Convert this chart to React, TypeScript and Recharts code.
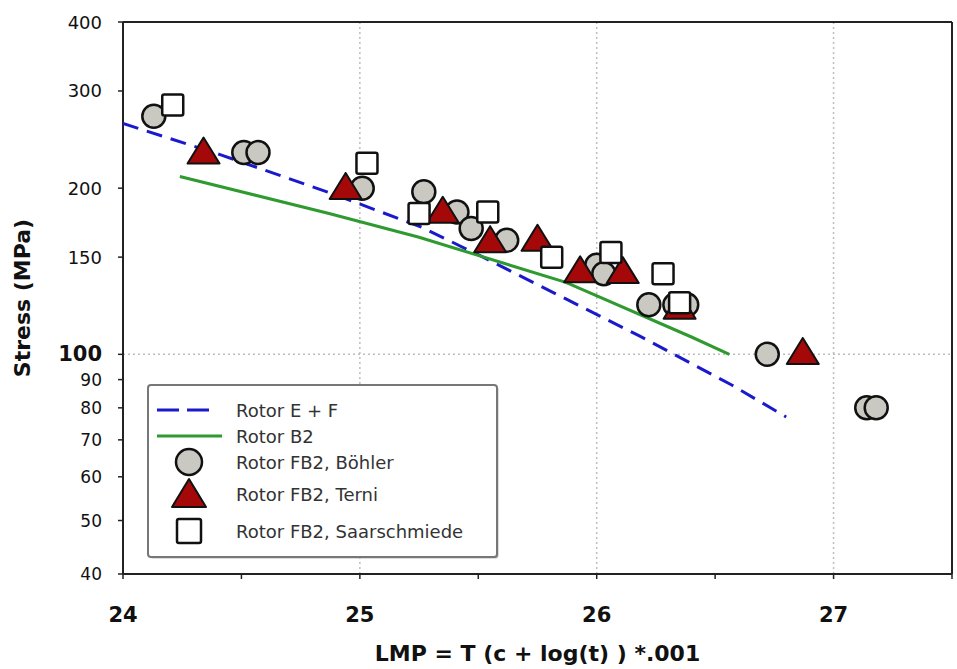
import React from 'react';
import { ComposedChart, Scatter, XAxis, YAxis, ReferenceLine, Legend } from 'recharts';

const xTicks = [24, 24.5, 25, 25.5, 26, 26.5, 27, 27.5];
const yTicks = [40, 50, 60, 70, 80, 90, 100, 150, 200, 300, 400];
const xGrid = [25, 26, 27];

const rotorEF = [
  { x: 24.0, y: 262 }, { x: 24.41, y: 230 }, { x: 24.89, y: 195 }, { x: 25.26, y: 170 },
  { x: 25.52, y: 150 }, { x: 25.87, y: 126 }, { x: 26.18, y: 108 }, { x: 26.57, y: 88 },
  { x: 26.8, y: 77 },
];
const rotorB2 = [
  { x: 24.24, y: 210 }, { x: 24.87, y: 180 }, { x: 25.25, y: 163 }, { x: 25.87, y: 135 },
  { x: 26.4, y: 107.5 }, { x: 26.56, y: 100 },
];
const bohler = [
  { x: 24.13, y: 270 }, { x: 24.51, y: 232 }, { x: 24.57, y: 232 }, { x: 25.01, y: 200 },
  { x: 25.27, y: 197 }, { x: 25.41, y: 181 }, { x: 25.47, y: 169 }, { x: 25.62, y: 161 },
  { x: 26.0, y: 145 }, { x: 26.03, y: 140 }, { x: 26.22, y: 123 }, { x: 26.33, y: 123 },
  { x: 26.38, y: 123 }, { x: 26.72, y: 100 }, { x: 27.14, y: 80 }, { x: 27.18, y: 80 },
];
const terni = [
  { x: 24.34, y: 233 }, { x: 24.94, y: 201 }, { x: 25.35, y: 182 }, { x: 25.55, y: 161 },
  { x: 25.75, y: 162 }, { x: 25.93, y: 142 }, { x: 26.11, y: 141.5 }, { x: 26.35, y: 122 },
  { x: 26.87, y: 101 },
];
const saar = [
  { x: 24.21, y: 283 }, { x: 25.03, y: 222 }, { x: 25.25, y: 180 }, { x: 25.54, y: 181 },
  { x: 25.81, y: 150 }, { x: 26.06, y: 153 }, { x: 26.28, y: 140 }, { x: 26.35, y: 124 },
];

const legendLabels = [
  'Rotor E + F',
  'Rotor B2',
  'Rotor FB2, Böhler',
  'Rotor FB2, Terni',
  'Rotor FB2, Saarschmiede',
];

const FONT = '"DejaVu Sans", "Liberation Sans", Arial, sans-serif';
const BLUE = '#1a1acc';
const GREEN = '#2e9a30';
const RED = '#a50808';
const GREY = '#c9c9c1';

const CircleShape = (p: any) => (
  <circle cx={p.cx} cy={p.cy} r={11.5} fill={GREY} stroke="#111" strokeWidth={2.5} />
);
const TriShape = (p: any) => (
  <polygon
    points={`${p.cx},${p.cy - 14} ${p.cx - 16},${p.cy + 12} ${p.cx + 16},${p.cy + 12}`}
    fill={RED}
    stroke="#111"
    strokeWidth={2}
    strokeLinejoin="round"
  />
);
const SquareShape = (p: any) => (
  <rect x={p.cx - 10.5} y={p.cy - 10.5} width={21} height={21} rx={2} fill="#fff" stroke="#111" strokeWidth={2.5} />
);
const NoShape = () => <g />;

const YTick = (props: any) => {
  const { x, y, payload } = props;
  const v = payload.value;
  const big = v === 100;
  const small = v < 100;
  return (
    <text
      x={x}
      y={y}
      textAnchor="end"
      dominantBaseline="central"
      fontFamily={FONT}
      fontSize={big ? 21 : small ? 17 : 18}
      fontWeight={big ? 'bold' : 'normal'}
      fill="#111"
    >
      {v}
    </text>
  );
};

const XTick = (props: any) => {
  const { x, y, payload } = props;
  const v = payload.value;
  if (!Number.isInteger(v)) return <g />;
  return (
    <text x={x} y={y} textAnchor="middle" dy="0.8em" fontFamily={FONT} fontSize={21} fontWeight="bold" fill="#111">
      {v}
    </text>
  );
};

const YLabel = (props: any) => {
  const vb = props.viewBox || {};
  const cx = (vb.x || 0) + 22;
  const cy = (vb.y || 0) + (vb.height || 0) / 2;
  return (
    <text
      x={cx}
      y={cy}
      transform={`rotate(-90 ${cx} ${cy})`}
      textAnchor="middle"
      dominantBaseline="central"
      fontFamily={FONT}
      fontSize={22}
      fontWeight="bold"
      fill="#111"
    >
      Stress (MPa)
    </text>
  );
};

const LegendBox = () => {
  const rows = [26, 52, 78, 110, 147];
  return (
    <svg width={354} height={177} style={{ display: 'block' }}>
      <rect x={2.5} y={2.5} width={349} height={172} rx={3} fill="#bbb" />
      <rect x={1} y={1} width={349} height={172} rx={3} fill="#fff" stroke="#777" strokeWidth={2} />
      <line x1={10} x2={62} y1={rows[0]} y2={rows[0]} stroke={BLUE} strokeWidth={3} strokeDasharray="22 8" />
      <line x1={10} x2={75} y1={rows[1]} y2={rows[1]} stroke={GREEN} strokeWidth={3} />
      <circle cx={42} cy={rows[2]} r={13} fill={GREY} stroke="#111" strokeWidth={2.5} />
      <polygon
        points={`42,${rows[3] - 15} 25,${rows[3] + 13} 59,${rows[3] + 13}`}
        fill={RED}
        stroke="#111"
        strokeWidth={2}
        strokeLinejoin="round"
      />
      <rect x={30} y={rows[4] - 12} width={24} height={24} rx={2} fill="#fff" stroke="#111" strokeWidth={2.5} />
      {legendLabels.map((t, i) => (
        <text key={t} x={89} y={rows[i]} dominantBaseline="central" fontFamily={FONT} fontSize={18} fill="#333">
          {t}
        </text>
      ))}
    </svg>
  );
};

export default function App() {
  return (
    <div style={{ position: 'absolute', left: 0, top: 0 }}>
      <ComposedChart width={957} height={669} margin={{ top: 22, right: 5, bottom: 0, left: 0 }}>
        <XAxis
          type="number"
          dataKey="x"
          domain={[24, 27.5]}
          ticks={xTicks}
          allowDataOverflow
          height={95}
          tick={<XTick />}
          tickSize={5}
          tickMargin={26}
          axisLine={{ stroke: '#222', strokeWidth: 2 }}
          tickLine={{ stroke: '#222', strokeWidth: 1.5 }}
          interval={0}
          label={{
            value: 'LMP = T (c + log(t) ) *.001',
            position: 'insideBottom',
            offset: 8,
            style: { fontFamily: FONT, fontSize: 22, fontWeight: 'bold', fill: '#111' },
          }}
        />
        <YAxis
          type="number"
          dataKey="y"
          scale="log"
          domain={[40, 400]}
          ticks={yTicks}
          allowDataOverflow
          width={123}
          tick={<YTick />}
          tickSize={5}
          tickMargin={16}
          interval={0}
          axisLine={{ stroke: '#222', strokeWidth: 2 }}
          tickLine={{ stroke: '#222', strokeWidth: 1.5 }}
          label={<YLabel />}
        />
        {xGrid.map((g) => (
          <ReferenceLine key={g} x={g} stroke="#bdbdbd" strokeWidth={1.5} strokeDasharray="2 3" />
        ))}
        <ReferenceLine y={100} stroke="#bdbdbd" strokeWidth={1.5} strokeDasharray="2 3" />
        <ReferenceLine y={400} stroke="#222" strokeWidth={2} />
        <ReferenceLine x={27.5} stroke="#222" strokeWidth={2} />
        <Scatter
          name="Rotor E + F"
          data={rotorEF}
          line={{ stroke: BLUE, strokeWidth: 3, strokeDasharray: '16 9' }}
          lineType="joint"
          shape={<NoShape />}
          isAnimationActive={false}
        />
        <Scatter
          name="Rotor B2"
          data={rotorB2}
          line={{ stroke: GREEN, strokeWidth: 3 }}
          lineType="joint"
          shape={<NoShape />}
          isAnimationActive={false}
        />
        <Scatter name="Rotor FB2, Böhler" data={bohler} shape={<CircleShape />} isAnimationActive={false} />
        <Scatter name="Rotor FB2, Terni" data={terni} shape={<TriShape />} isAnimationActive={false} />
        <Scatter name="Rotor FB2, Saarschmiede" data={saar} shape={<SquareShape />} isAnimationActive={false} />
        <Legend
          layout="horizontal"
          verticalAlign="middle"
          align="center"
          content={<LegendBox />}
          wrapperStyle={{ left: 147, top: 384, width: 354, height: 177 }}
        />
      </ComposedChart>
    </div>
  );
}
